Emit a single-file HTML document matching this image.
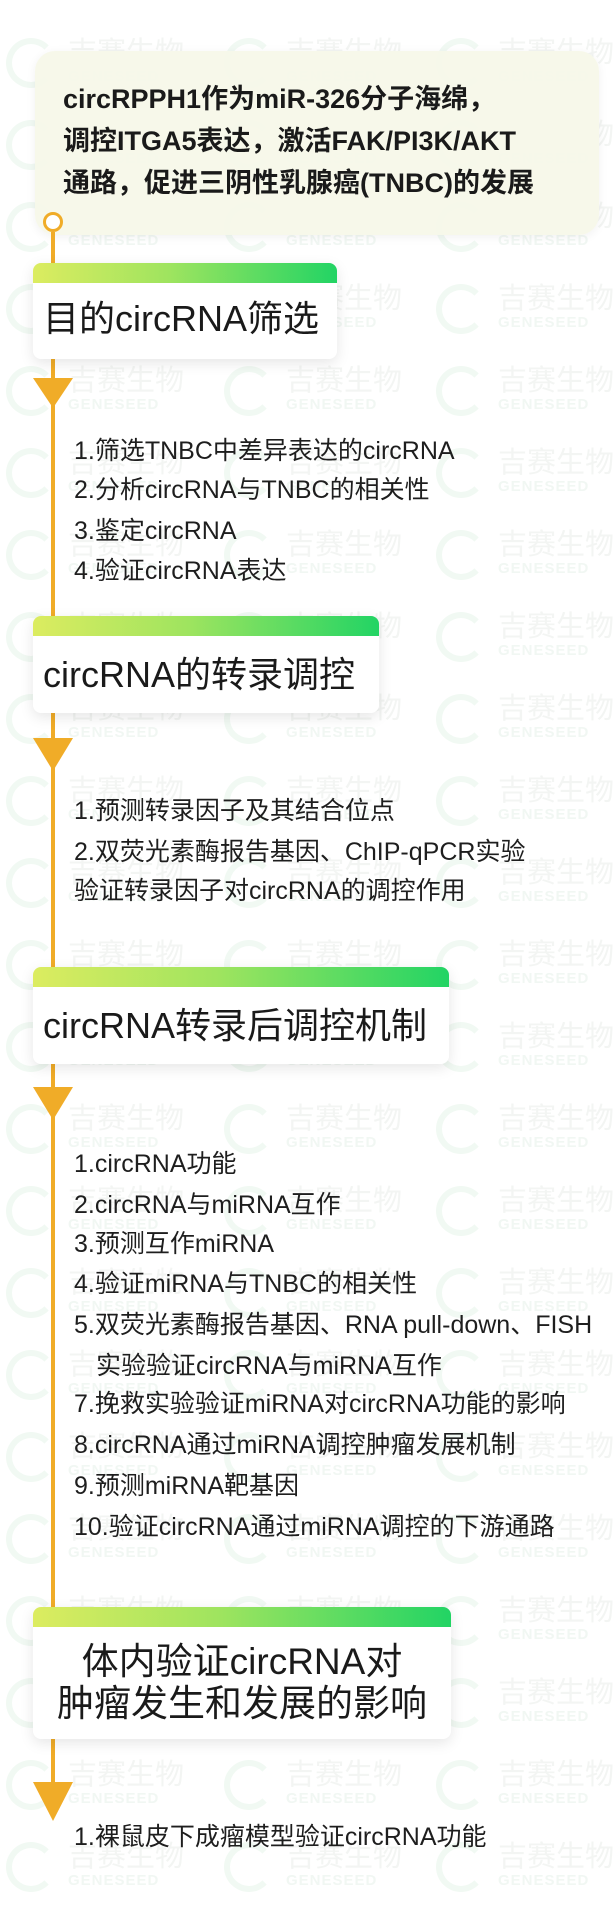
<!DOCTYPE html>
<html><head><meta charset="utf-8"><style>
*{margin:0;padding:0;box-sizing:border-box}
body{width:614px;height:1907px;background:#fff;position:relative;overflow:hidden;font-family:"Liberation Sans","Noto Sans CJK SC",sans-serif;color:#222}
.wm{position:absolute;left:0;width:614px;height:70px}
.wm span{position:absolute;top:0;width:190px;height:70px;white-space:nowrap}
.wm i{position:absolute;left:6px;top:8px;width:50px;height:50px;border:6px solid #f1f9f3;border-radius:50%;border-right-color:transparent}
.wm b{position:absolute;left:68px;top:2px;font:400 29px/36px "Noto Sans CJK SC",sans-serif;color:#f3f5f3}
.wm em{position:absolute;left:68px;top:38px;font:700 15px/18px "Liberation Sans",sans-serif;color:#f1f7f3;font-style:normal;letter-spacing:1px}
.line{position:absolute;left:51px;top:232px;width:4px;height:1570px;background:#f0ac28}
.ring{position:absolute;left:43px;top:212px;width:20px;height:20px;border:3px solid #f0ac28;border-radius:50%;background:#fff}
.top{position:absolute;left:35px;top:51px;width:564px;height:184px;background:rgba(246,248,232,.93);border-radius:20px;box-shadow:0 2px 10px rgba(0,0,0,.06)}
.top p{position:absolute;left:28px;top:27px;font-weight:700;font-size:27px;line-height:42px;color:#1a1a1a;white-space:nowrap}
.hd{position:absolute;left:33px;background:#fff;border-radius:8px;box-shadow:0 4px 14px rgba(0,0,0,.1);overflow:hidden}
.hd .bar{height:20px;background:linear-gradient(90deg,#dcec60,#9ee45f 45%,#22d464)}
.hd .t{font-size:36px;white-space:nowrap;color:#1a1a1a;padding-left:10px}
.arr{position:absolute;left:33px;width:0;height:0;border-left:20px solid transparent;border-right:20px solid transparent;border-top:32px solid #f0ac28}
.li{position:absolute;left:74px;font-size:25px;line-height:40px;white-space:nowrap;color:#1e1e1e}
</style></head><body>
<div class="wm" style="top:30px"><span style="left:0"><i></i><b>吉赛生物</b><em>GENESEED</em></span><span style="left:218px"><i></i><b>吉赛生物</b><em>GENESEED</em></span><span style="left:430px"><i></i><b>吉赛生物</b><em>GENESEED</em></span></div>
<div class="wm" style="top:112px"><span style="left:0"><i></i><b>吉赛生物</b><em>GENESEED</em></span><span style="left:218px"><i></i><b>吉赛生物</b><em>GENESEED</em></span><span style="left:430px"><i></i><b>吉赛生物</b><em>GENESEED</em></span></div>
<div class="wm" style="top:194px"><span style="left:0"><i></i><b>吉赛生物</b><em>GENESEED</em></span><span style="left:218px"><i></i><b>吉赛生物</b><em>GENESEED</em></span><span style="left:430px"><i></i><b>吉赛生物</b><em>GENESEED</em></span></div>
<div class="wm" style="top:276px"><span style="left:0"><i></i><b>吉赛生物</b><em>GENESEED</em></span><span style="left:218px"><i></i><b>吉赛生物</b><em>GENESEED</em></span><span style="left:430px"><i></i><b>吉赛生物</b><em>GENESEED</em></span></div>
<div class="wm" style="top:358px"><span style="left:0"><i></i><b>吉赛生物</b><em>GENESEED</em></span><span style="left:218px"><i></i><b>吉赛生物</b><em>GENESEED</em></span><span style="left:430px"><i></i><b>吉赛生物</b><em>GENESEED</em></span></div>
<div class="wm" style="top:440px"><span style="left:0"><i></i><b>吉赛生物</b><em>GENESEED</em></span><span style="left:218px"><i></i><b>吉赛生物</b><em>GENESEED</em></span><span style="left:430px"><i></i><b>吉赛生物</b><em>GENESEED</em></span></div>
<div class="wm" style="top:522px"><span style="left:0"><i></i><b>吉赛生物</b><em>GENESEED</em></span><span style="left:218px"><i></i><b>吉赛生物</b><em>GENESEED</em></span><span style="left:430px"><i></i><b>吉赛生物</b><em>GENESEED</em></span></div>
<div class="wm" style="top:604px"><span style="left:0"><i></i><b>吉赛生物</b><em>GENESEED</em></span><span style="left:218px"><i></i><b>吉赛生物</b><em>GENESEED</em></span><span style="left:430px"><i></i><b>吉赛生物</b><em>GENESEED</em></span></div>
<div class="wm" style="top:686px"><span style="left:0"><i></i><b>吉赛生物</b><em>GENESEED</em></span><span style="left:218px"><i></i><b>吉赛生物</b><em>GENESEED</em></span><span style="left:430px"><i></i><b>吉赛生物</b><em>GENESEED</em></span></div>
<div class="wm" style="top:768px"><span style="left:0"><i></i><b>吉赛生物</b><em>GENESEED</em></span><span style="left:218px"><i></i><b>吉赛生物</b><em>GENESEED</em></span><span style="left:430px"><i></i><b>吉赛生物</b><em>GENESEED</em></span></div>
<div class="wm" style="top:850px"><span style="left:0"><i></i><b>吉赛生物</b><em>GENESEED</em></span><span style="left:218px"><i></i><b>吉赛生物</b><em>GENESEED</em></span><span style="left:430px"><i></i><b>吉赛生物</b><em>GENESEED</em></span></div>
<div class="wm" style="top:932px"><span style="left:0"><i></i><b>吉赛生物</b><em>GENESEED</em></span><span style="left:218px"><i></i><b>吉赛生物</b><em>GENESEED</em></span><span style="left:430px"><i></i><b>吉赛生物</b><em>GENESEED</em></span></div>
<div class="wm" style="top:1014px"><span style="left:0"><i></i><b>吉赛生物</b><em>GENESEED</em></span><span style="left:218px"><i></i><b>吉赛生物</b><em>GENESEED</em></span><span style="left:430px"><i></i><b>吉赛生物</b><em>GENESEED</em></span></div>
<div class="wm" style="top:1096px"><span style="left:0"><i></i><b>吉赛生物</b><em>GENESEED</em></span><span style="left:218px"><i></i><b>吉赛生物</b><em>GENESEED</em></span><span style="left:430px"><i></i><b>吉赛生物</b><em>GENESEED</em></span></div>
<div class="wm" style="top:1178px"><span style="left:0"><i></i><b>吉赛生物</b><em>GENESEED</em></span><span style="left:218px"><i></i><b>吉赛生物</b><em>GENESEED</em></span><span style="left:430px"><i></i><b>吉赛生物</b><em>GENESEED</em></span></div>
<div class="wm" style="top:1260px"><span style="left:0"><i></i><b>吉赛生物</b><em>GENESEED</em></span><span style="left:218px"><i></i><b>吉赛生物</b><em>GENESEED</em></span><span style="left:430px"><i></i><b>吉赛生物</b><em>GENESEED</em></span></div>
<div class="wm" style="top:1342px"><span style="left:0"><i></i><b>吉赛生物</b><em>GENESEED</em></span><span style="left:218px"><i></i><b>吉赛生物</b><em>GENESEED</em></span><span style="left:430px"><i></i><b>吉赛生物</b><em>GENESEED</em></span></div>
<div class="wm" style="top:1424px"><span style="left:0"><i></i><b>吉赛生物</b><em>GENESEED</em></span><span style="left:218px"><i></i><b>吉赛生物</b><em>GENESEED</em></span><span style="left:430px"><i></i><b>吉赛生物</b><em>GENESEED</em></span></div>
<div class="wm" style="top:1506px"><span style="left:0"><i></i><b>吉赛生物</b><em>GENESEED</em></span><span style="left:218px"><i></i><b>吉赛生物</b><em>GENESEED</em></span><span style="left:430px"><i></i><b>吉赛生物</b><em>GENESEED</em></span></div>
<div class="wm" style="top:1588px"><span style="left:0"><i></i><b>吉赛生物</b><em>GENESEED</em></span><span style="left:218px"><i></i><b>吉赛生物</b><em>GENESEED</em></span><span style="left:430px"><i></i><b>吉赛生物</b><em>GENESEED</em></span></div>
<div class="wm" style="top:1670px"><span style="left:0"><i></i><b>吉赛生物</b><em>GENESEED</em></span><span style="left:218px"><i></i><b>吉赛生物</b><em>GENESEED</em></span><span style="left:430px"><i></i><b>吉赛生物</b><em>GENESEED</em></span></div>
<div class="wm" style="top:1752px"><span style="left:0"><i></i><b>吉赛生物</b><em>GENESEED</em></span><span style="left:218px"><i></i><b>吉赛生物</b><em>GENESEED</em></span><span style="left:430px"><i></i><b>吉赛生物</b><em>GENESEED</em></span></div>
<div class="wm" style="top:1834px"><span style="left:0"><i></i><b>吉赛生物</b><em>GENESEED</em></span><span style="left:218px"><i></i><b>吉赛生物</b><em>GENESEED</em></span><span style="left:430px"><i></i><b>吉赛生物</b><em>GENESEED</em></span></div>

<div class="top"><p>circRPPH1作为miR-326分子海绵，<br>调控ITGA5表达，激活FAK/PI3K/AKT<br>通路，促进三阴性乳腺癌(TNBC)的发展</p></div>
<div class="line"></div>
<div class="ring"></div>

<div class="hd" style="top:263px;width:304px;height:96px"><div class="bar"></div><div class="t" style="line-height:72px">目的circRNA筛选</div></div>
<div class="arr" style="top:378px;border-top-width:30px"></div>
<div class="li" style="top:431px">1.筛选TNBC中差异表达的circRNA</div>
<div class="li" style="top:470px">2.分析circRNA与TNBC的相关性</div>
<div class="li" style="top:511px">3.鉴定circRNA</div>
<div class="li" style="top:551px">4.验证circRNA表达</div>

<div class="hd" style="top:616px;width:346px;height:97px"><div class="bar"></div><div class="t" style="line-height:78px">circRNA的转录调控</div></div>
<div class="arr" style="top:738px;border-top-width:33px"></div>
<div class="li" style="top:791px">1.预测转录因子及其结合位点</div>
<div class="li" style="top:832px">2.双荧光素酶报告基因、ChIP-qPCR实验</div>
<div class="li" style="top:871px">验证转录因子对circRNA的调控作用</div>

<div class="hd" style="top:967px;width:416px;height:97px"><div class="bar"></div><div class="t" style="line-height:78px">circRNA转录后调控机制</div></div>
<div class="arr" style="top:1087px;border-top-width:33px"></div>
<div class="li" style="top:1144px">1.circRNA功能</div>
<div class="li" style="top:1185px">2.circRNA与miRNA互作</div>
<div class="li" style="top:1224px">3.预测互作miRNA</div>
<div class="li" style="top:1264px">4.验证miRNA与TNBC的相关性</div>
<div class="li" style="top:1305px">5.双荧光素酶报告基因、RNA pull-down、FISH</div>
<div class="li" style="top:1346px;left:96px">实验验证circRNA与miRNA互作</div>
<div class="li" style="top:1384px">7.挽救实验验证miRNA对circRNA功能的影响</div>
<div class="li" style="top:1425px">8.circRNA通过miRNA调控肿瘤发展机制</div>
<div class="li" style="top:1466px">9.预测miRNA靶基因</div>
<div class="li" style="top:1507px">10.验证circRNA通过miRNA调控的下游通路</div>

<div class="hd" style="top:1607px;width:418px;height:132px"><div class="bar"></div><div class="t" style="padding:14px 0 0;text-align:center;line-height:42px;font-size:37px">体内验证circRNA对<br>肿瘤发生和发展的影响</div></div>
<div class="arr" style="top:1782px;border-top-width:39px"></div>
<div class="li" style="top:1817px">1.裸鼠皮下成瘤模型验证circRNA功能</div>
</body></html>
